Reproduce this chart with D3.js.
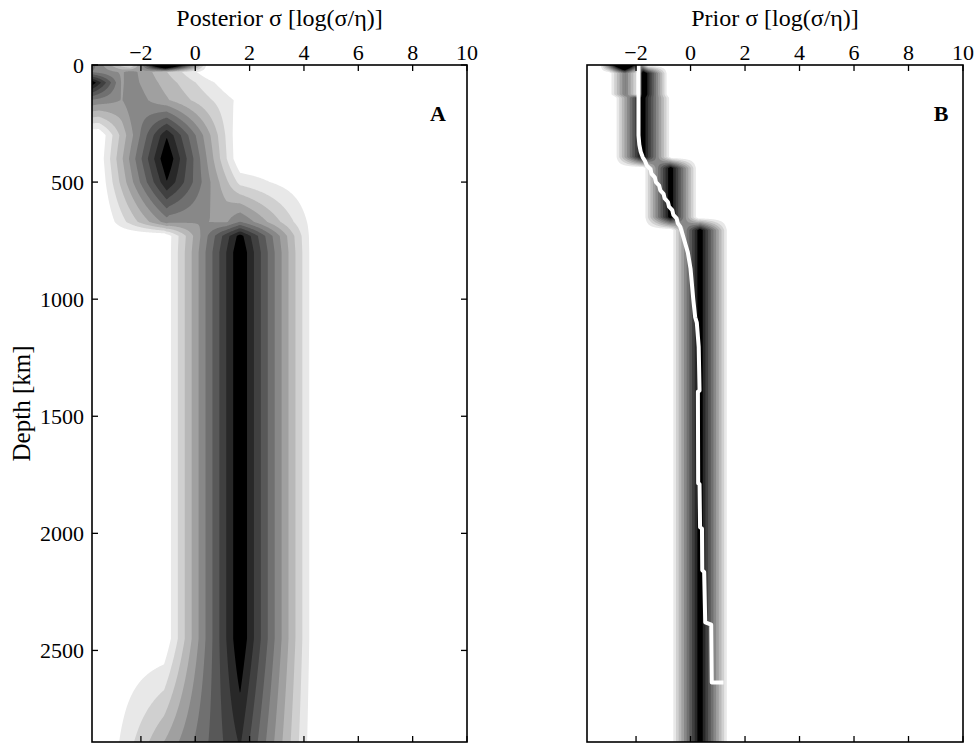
<!DOCTYPE html>
<html><head><meta charset="utf-8">
<script src="https://cdn.jsdelivr.net/npm/d3@7"></script>
<style>body{margin:0;background:#fff}svg{display:block}</style>
</head><body>
<svg id="chart" width="974" height="743"></svg>
<script>
// ---------------- data ----------------
const xTicks = [-2, 0, 2, 4, 6, 8, 10];
const yTicks = [0, 500, 1000, 1500, 2000, 2500];
const valueDomain = [-3.8, 10];
const depthDomain = [0, 2891];
const contourLevels = [1,2,3,4,5,6,7,8,9,10].map(k => k / 11);
const bandGreys = [232, 208, 184, 160, 136, 112, 88, 64, 40, 0];

// Posterior density (panel A): depth nodes and, per node, tent components
// [mode, half-width left, half-width right, peak]
const postDepth = [0, 30, 75, 150, 300, 400, 500, 670, 730, 800, 2450, 2891];
const postRows = [
  [[-1.1, 1.3, 1.6, 1.5], [-3.9, 1.0, 1.9, 0.62]],
  [[-3.9, 1.0, 1.2, 0.35], [-2.4, 2.5, 3.0, 0.5]],
  [[-3.9, 1.0, 1.2, 0.83], [-2.4, 2.5, 3.8, 0.5]],
  [[-3.9, 1.0, 1.2, 0.3], [-2.3, 3.0, 4.5, 0.52]],
  [[-1.05, 2.5, 2.7, 0.9]],
  [[-1.05, 2.55, 2.7, 1.0]],
  [[-1.05, 2.5, 2.7, 0.9], [1.65, 2.8, 2.8, 0.15]],
  [[-1.05, 2.34, 2.2, 0.5], [1.65, 2.6, 2.95, 0.55]],
  [[1.65, 2.8, 2.8, 0.95]],
  [[1.65, 2.8, 2.8, 1.0]],
  [[1.65, 2.8, 2.8, 1.0]],
  [[1.65, 5.0, 2.77, 0.83]]
];

// Prior density (panel B)
const priorDepth = [0, 35, 125, 140, 393, 440, 650, 705, 2891];
const priorRows = [
  [[-2.45, 0.9, 0.9, 1.6]],
  [[-2.4, 0.6, 0.6, 0.55], [-1.75, 0.2, 0.95, 1.1]],
  [[-2.4, 0.6, 0.6, 0.55], [-1.75, 0.2, 0.95, 1.1]],
  [[-1.75, 1.06, 1.06, 1.0]],
  [[-1.75, 1.06, 1.06, 1.0]],
  [[-0.73, 1.02, 1.02, 1.0]],
  [[-0.73, 1.02, 1.02, 1.0]],
  [[0.35, 1.08, 1.08, 1.0]],
  [[0.35, 1.08, 1.08, 1.0]]
];

// Reference profile (white line, panel B)
const refDepth = [0, 300, 340, 370, 395, 410, 430, 445, 465, 480, 500, 515, 535, 550, 570, 585, 605, 620, 640, 655, 675, 690,
  720, 760, 800, 870, 1000, 1077, 1100, 1205, 1390, 1395, 1786, 1790, 1974, 1980, 2158, 2165, 2380, 2390, 2637, 2637];
const refValue = [-1.91, -1.91, -1.88, -1.83, -1.75, -1.67, -1.6, -1.47, -1.43, -1.31, -1.27, -1.15, -1.11, -0.99, -0.95, -0.83, -0.79, -0.67, -0.63, -0.51, -0.47, -0.38,
  -0.3, -0.2, -0.1, 0.0, 0.1, 0.17, 0.23, 0.3, 0.33, 0.27, 0.28, 0.33, 0.35, 0.42, 0.43, 0.5, 0.54, 0.76, 0.78, 1.21];

const panelTitles = ["Posterior σ [log(σ/η)]", "Prior σ [log(σ/η)]"];
const panelLetters = ["A", "B"];

// ---------------- drawing ----------------
const svg = d3.select("#chart");
const plotTop = 65, plotBottom = 742;
const FONT = "Liberation Serif, Times New Roman, serif";
const panels = [
  {x0: 92, x1: 467, depth: postDepth, rows: postRows, title: panelTitles[0], letter: panelLetters[0], letterX: 438, yAxis: true},
  {x0: 587, x1: 963, depth: priorDepth, rows: priorRows, title: panelTitles[1], letter: panelLetters[1], letterX: 941, yAxis: false}
];

const gx0 = -5, gx1 = 11, gdx = 0.02;
const nx = Math.round((gx1 - gx0) / gdx) + 1;
function tent(x, c) {
  const [m, wl, wr, a] = c;
  const d = x - m;
  const w = d < 0 ? wl : wr;
  return a * Math.max(0, 1 - Math.abs(d) / w);
}
function buildGrid(rows) {
  const ny = rows.length;
  const v = new Float64Array(nx * ny);
  rows.forEach((comps, j) => {
    for (let i = 0; i < nx; i++) {
      const x = gx0 + i * gdx;
      let s = 0;
      comps.forEach(c => { s += tent(x, c); });
      v[j * nx + i] = s;
    }
  });
  return v;
}
const greyOf = k => { const g = bandGreys[k]; return `rgb(${g},${g},${g})`; };
const fmt = d => d < 0 ? "\u2212" + Math.abs(d) : String(d);

panels.forEach((p, pi) => {
  const sx = d3.scaleLinear().domain(valueDomain).range([p.x0, p.x1]);
  const sy = d3.scaleLinear().domain(depthDomain).range([plotTop, plotBottom]);
  const g = svg.append("g");
  const clipId = "clip" + pi;
  svg.append("clipPath").attr("id", clipId).append("rect")
    .attr("x", p.x0).attr("y", plotTop).attr("width", p.x1 - p.x0).attr("height", plotBottom - plotTop);

  const ny = p.rows.length;
  const values = buildGrid(p.rows);
  const contours = d3.contours().size([nx, ny]).thresholds(contourLevels)(values);
  const depths = p.depth;
  const proj = d3.geoTransform({
    point(px, py) {
      const xv = gx0 + (px - 0.5) * gdx;
      const yi = Math.max(0, Math.min(ny - 1, py - 0.5));
      const j = Math.min(Math.floor(yi), ny - 2);
      const t = yi - j;
      const dv = depths[j] + t * (depths[j + 1] - depths[j]);
      this.stream.point(sx(xv), sy(dv));
    }
  });
  const path = d3.geoPath(proj);
  const cg = g.append("g").attr("clip-path", `url(#${clipId})`);
  cg.selectAll("path").data(contours).join("path")
    .attr("d", path)
    .attr("fill", (d, i) => greyOf(i))
    .attr("stroke", "none")
    .attr("fill-rule", "evenodd");

  if (pi === 1) {
    const pts = refDepth.map((d, i) => [refValue[i], d]);
    const line = d3.line().x(d => sx(d[0])).y(d => sy(d[1]));
    cg.append("path").attr("d", line(pts)).attr("fill", "none")
      .attr("stroke", "#fff").attr("stroke-width", 4).attr("stroke-linejoin", "round");
  }

  g.append("rect").attr("x", p.x0).attr("y", plotTop).attr("width", p.x1 - p.x0).attr("height", plotBottom - plotTop)
    .attr("fill", "none").attr("stroke", "#000").attr("stroke-width", 1.6);

  const tl = 6;
  xTicks.forEach(v => {
    const x = sx(v);
    g.append("line").attr("x1", x).attr("x2", x).attr("y1", plotTop).attr("y2", plotTop + tl).attr("stroke", "#000").attr("stroke-width", 1.3);
    g.append("line").attr("x1", x).attr("x2", x).attr("y1", plotBottom).attr("y2", plotBottom - tl).attr("stroke", "#000").attr("stroke-width", 1.3);
    g.append("text").attr("x", x).attr("y", 60).attr("text-anchor", "middle")
      .attr("font-family", FONT).attr("font-size", 22).text(fmt(v));
  });
  if (p.yAxis) {
    yTicks.forEach(v => {
      const y = sy(v);
      g.append("line").attr("x1", p.x0).attr("x2", p.x0 + tl).attr("y1", y).attr("y2", y).attr("stroke", "#000").attr("stroke-width", 1.3);
      g.append("line").attr("x1", p.x1).attr("x2", p.x1 - tl).attr("y1", y).attr("y2", y).attr("stroke", "#000").attr("stroke-width", 1.3);
      g.append("text").attr("x", p.x0 - 8).attr("y", y).attr("dy", "0.35em").attr("text-anchor", "end")
        .attr("font-family", FONT).attr("font-size", 22).text(v);
    });
  }
  g.append("text").attr("x", (p.x0 + p.x1) / 2).attr("y", 26).attr("text-anchor", "middle")
    .attr("font-family", FONT).attr("font-size", 24).text(p.title);
  g.append("text").attr("x", p.letterX).attr("y", 121).attr("text-anchor", "middle")
    .attr("font-family", FONT).attr("font-weight", "bold").attr("font-size", 22).text(p.letter);
});

svg.append("text").attr("transform", `translate(30,${(plotTop + plotBottom) / 2}) rotate(-90)`)
  .attr("text-anchor", "middle").attr("font-family", FONT).attr("font-size", 25)
  .text("Depth [km]");
</script>
</body></html>
